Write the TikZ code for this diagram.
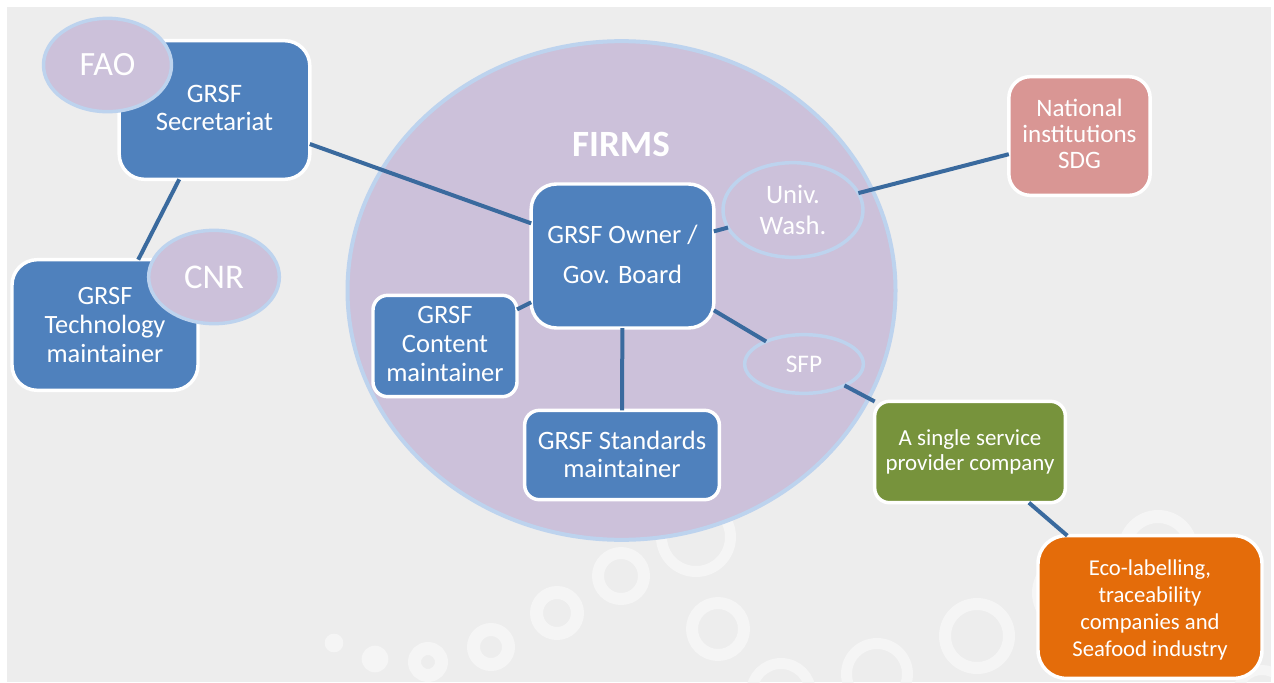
\documentclass[tikz,border=0pt]{standalone}
\usepackage{fontspec}
\setmainfont{Carlito}
\usetikzlibrary{shapes.geometric}
\definecolor{bgc}{HTML}{EDEDED}
\definecolor{ringc}{HTML}{F5F5F5}
\definecolor{boxblue}{HTML}{4F81BD}
\definecolor{lilac}{HTML}{CCC1DA}
\definecolor{edgeblue}{HTML}{BDD3EE}
\definecolor{linkc}{HTML}{3A6A9E}
\definecolor{pinkc}{HTML}{D99694}
\definecolor{greenc}{HTML}{77933C}
\definecolor{orangec}{HTML}{E46C0A}
\newcommand{\fs}[2]{\fontsize{#1}{#2}\selectfont}
\tikzset{
  x=0.75pt,y=-0.75pt,
  ringmark/.style={draw=ringc,fill=none},
  dotmark/.style={fill=ringc},
  rbox/.style={rectangle,draw=white,line width=2.6pt,text=white,align=center,inner sep=0pt,outer sep=0pt},
  rbig/.style={rbox,rounded corners=19pt},
  rsmall/.style={rbox,rounded corners=11pt},
  blob/.style={ellipse,fill=lilac,draw=edgeblue,line width=2.6pt,text=white,align=center,inner sep=0pt,outer sep=0pt},
  link/.style={draw=linkc,line width=3pt},
  lift/.style={text depth=#1},
}
\begin{document}
\begin{tikzpicture}
\useasboundingbox (0,0) rectangle (1274,682);
\fill[white] (0,0) rectangle (1274,682);
\fill[bgc] (7,7) rectangle (1271,682);
\begin{scope}
\clip (7,7) rectangle (1271,682);
\fill[dotmark] (334,643) circle[radius=7pt];
\fill[dotmark] (375,659) circle[radius=10pt];
\foreach \cx/\cy/\ro/\ri in {428/662/20/7, 491/647/24/11, 557/613/27/14, 621/576/29/17, 696/537/40/29, 718/629/32/20, 781/693/35/24, 877/674/36/25, 977/636/38/26, 1158/550/40/27, 1072/593/40/27, 1262/695/30/20}{
  \draw[ringmark,line width={(\ro-\ri)*0.75pt}] (\cx,\cy) circle[radius={(\ro+\ri)/2*0.75pt}];
}
\end{scope}
\node[ellipse,fill=lilac,draw=edgeblue,line width=3pt,minimum width=411pt,minimum height=374pt,inner sep=0pt] (firms) at (621.5,290.5) {};
\node[text=white,font=\bfseries\fs{27.8}{30}] (firmslabel) at (621,144) {FIRMS};

\node[rbig,lift=3pt,fill=boxblue,minimum width=143pt,minimum height=104pt,font=\fs{20}{21}] (sec) at (214.5,110) {GRSF\\Secretariat};
\node[rbig,fill=boxblue,minimum width=139.5pt,minimum height=98pt,font=\fs{19.8}{21.5}] (tech) at (105,325) {GRSF\\Technology\\maintainer};
\node[blob,minimum width=96pt,minimum height=70pt,font=\fs{25.5}{28}] (fao) at (107.5,65) {FAO};
\node[blob,minimum width=98pt,minimum height=70pt,font=\fs{26}{28}] (cnr) at (214,277) {CNR};

\node[rbig,lift=3pt,fill=boxblue,minimum width=137pt,minimum height=108pt,font=\fs{19.9}{30}] (owner) at (622.5,256) {GRSF Owner /\\Gov. Board};
\node[rsmall,lift=3pt,fill=boxblue,minimum width=108pt,minimum height=76pt,font=\fs{19.9}{21.5}] (content) at (445,346) {GRSF\\Content\\maintainer};
\node[rsmall,lift=1.5pt,fill=boxblue,minimum width=146pt,minimum height=67pt,font=\fs{19.9}{21}] (std) at (622,455) {GRSF Standards\\maintainer};
\node[blob,minimum width=105pt,minimum height=71pt,font=\fs{20}{23.5}] (univ) at (793,210) {Univ.\\Wash.};
\node[blob,minimum width=89pt,minimum height=44pt,font=\fs{19}{20}] (sfp) at (804,364) {SFP};
\node[rbig,lift=3pt,fill=pinkc,rounded corners=16pt,minimum width=106pt,minimum height=89pt,font=\fs{18.8}{19.5}] (nat) at (1079.5,136) {National\\institutions\\SDG};
\node[rsmall,fill=greenc,minimum width=143pt,minimum height=76pt,font=\fs{17.2}{19}] (single) at (970,452) {A single service\\provider company};
\node[rbig,text height=77pt,fill=orangec,rounded corners=21pt,minimum width=168pt,minimum height=107pt,font=\fs{17}{20.3}] (eco) at (1150,607) {Eco-labelling,\\traceability\\companies and\\Seafood industry};

\draw[link] (sec) -- (owner);
\draw[link] (tech) -- (sec);
\draw[link] (content) -- (owner);
\draw[link] (std) -- (owner);
\draw[link] (owner) -- (univ);
\draw[link] (owner) -- (sfp);
\draw[link] (univ) -- (nat);
\draw[link] (sfp) -- (single);
\draw[link] (single) -- (eco);
\end{tikzpicture}
\end{document}
